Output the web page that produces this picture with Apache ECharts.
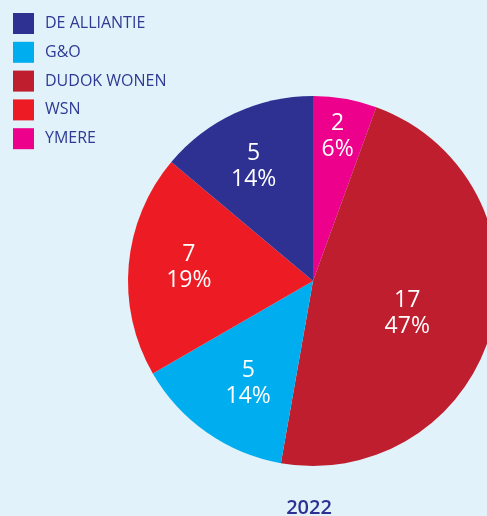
<!DOCTYPE html>
<html>
<head>
<meta charset="utf-8">
<script src="https://cdn.jsdelivr.net/npm/echarts@6/dist/echarts.min.js"></script>
<style>
  html, body { margin: 0; padding: 0; background: #e1f2fa; }
  #chart { width: 487px; height: 516px; }
</style>
</head>
<body>
<div id="chart"></div>
<script>
// legend order
const legendNames = ["DE ALLIANTIE", "G&O", "DUDOK WONEN", "WSN", "YMERE"];
// slices, clockwise from the top
const sliceNames = ["YMERE", "DUDOK WONEN", "G&O", "WSN", "DE ALLIANTIE"];
const sliceValues = [2, 17, 5, 7, 5];
const sliceColors = ["#ec008c", "#be1e2d", "#00aeef", "#ed1c24", "#2e3192"];
// label nudges to match the original placement
const labelOffsets = [[8, -50], [2, 8], [-10, 24], [-29, -5], [-19, -28]];
const yearLabel = "2022";

const total = sliceValues.reduce((a, b) => a + b, 0);

const chart = echarts.init(document.getElementById("chart"));
chart.setOption({
  backgroundColor: "#e1f2fa",
  animation: false,
  title: {
    text: yearLabel,
    left: 304,
    top: 493,
    textAlign: "center",
    textStyle: {
      fontFamily: "Open Sans",
      fontSize: 20,
      fontWeight: 600,
      color: "#2e3192"
    }
  },
  legend: {
    data: legendNames,
    orient: "vertical",
    left: 8,
    top: 8,
    icon: "rect",
    itemWidth: 21,
    itemHeight: 21,
    itemGap: 7.8,
    textStyle: {
      fontFamily: "Open Sans",
      fontSize: 16,
      fontWeight: 500,
      color: "#2e3a94",
      padding: [0, 0, 0, 6]
    }
  },
  series: [
    {
      type: "pie",
      center: [313, 281],
      radius: 185,
      startAngle: 90,
      clockwise: true,
      data: sliceNames.map((name, i) => ({
        name: name,
        value: sliceValues[i],
        itemStyle: { color: sliceColors[i] },
        label: { offset: labelOffsets[i] }
      })),
      label: {
        show: true,
        position: "inside",
        color: "#ffffff",
        fontFamily: "Open Sans",
        fontSize: 23,
        lineHeight: 26,
        formatter: (p) => p.value + "\n" + Math.round((p.value / total) * 100) + "%"
      },
      labelLine: { show: false },
      emphasis: { disabled: true }
    }
  ]
});
</script>
</body>
</html>
